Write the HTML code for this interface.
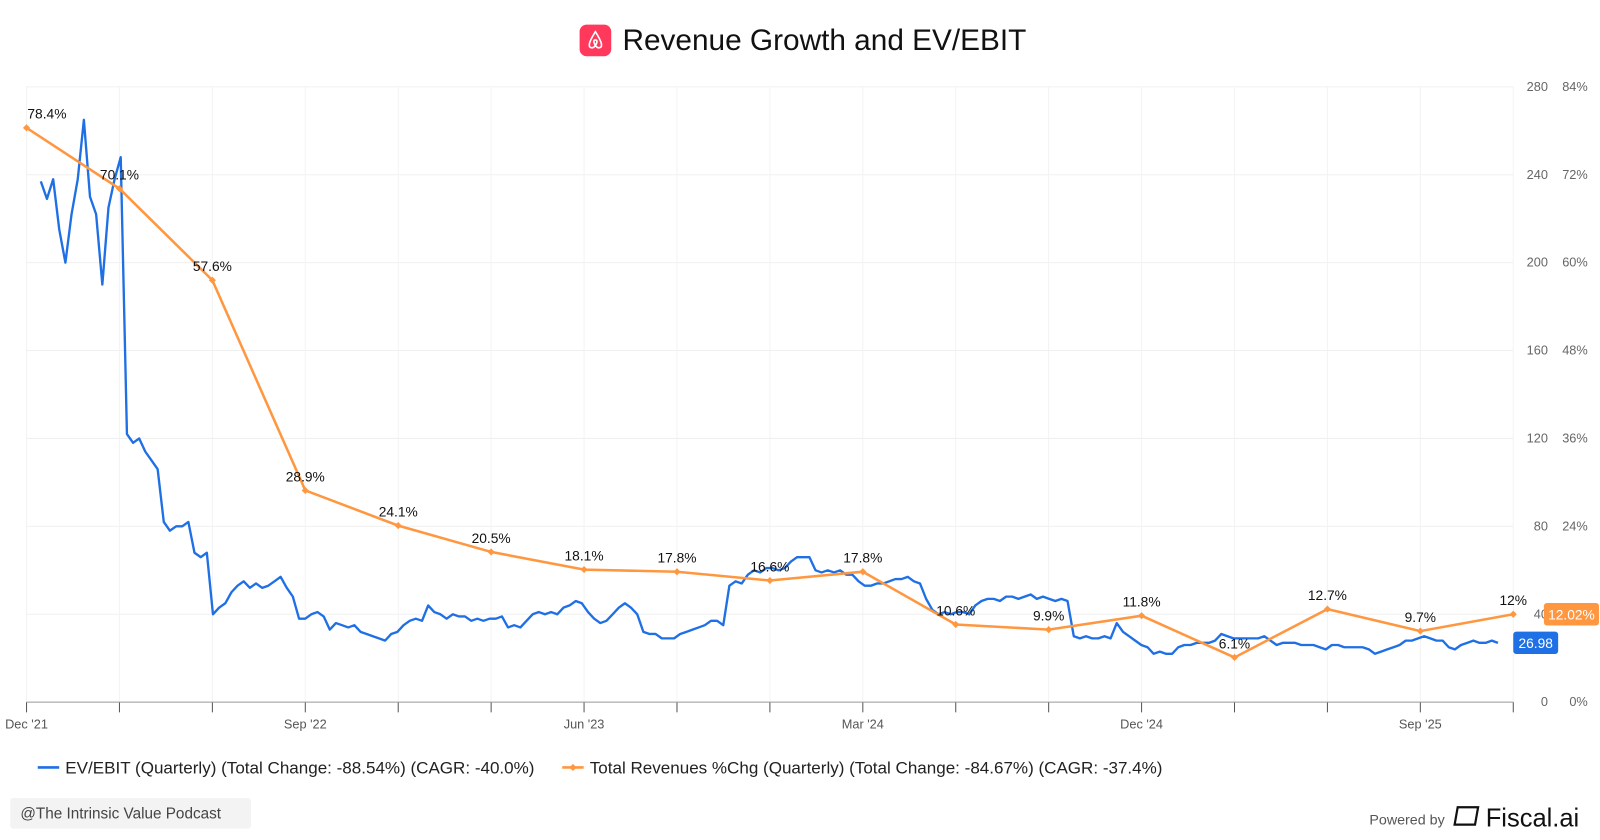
<!DOCTYPE html>
<html><head><meta charset="utf-8">
<style>
body{margin:0;width:1600px;height:840px;background:#fff;font-family:"Liberation Sans",sans-serif;overflow:hidden}
svg{display:block}
</style></head>
<body>
<svg width="1600" height="840" viewBox="0 0 1568 823">
  <g>
    <rect x="568" y="24" width="31" height="31" rx="7" fill="#ff385c"/>
    <path d="M583.5 31 C581 35 577.5 41 577.5 44 C577.5 47 581 48 583.5 44.5 C586 48 589.5 47 589.5 44 C589.5 41 586 35 583.5 31 Z M583.5 44.5 C581.5 41.5 581.5 39 583.5 39 C585.5 39 585.5 41.5 583.5 44.5" fill="none" stroke="#fff" stroke-width="1.6"/>
    <text x="610" y="49" font-size="29.2" fill="#111">Revenue Growth and EV/EBIT</text>
  </g>
  <g id="grid"></g>
  <g id="axes"></g>
  <g id="series"></g>
  <g>
    <g>
      <line x1="37" y1="752" x2="58" y2="752" stroke="#1f6fe5" stroke-width="2.5"/>
      <text x="64" y="758" font-size="16.7" fill="#222">EV/EBIT (Quarterly) (Total Change: -88.54%) (CAGR: -40.0%)</text>
    </g>
    <g>
      <line x1="551" y1="752" x2="572" y2="752" stroke="#ff9740" stroke-width="2.5"/>
      <path d="M561.5 748.5 L565 752 L561.5 755.5 L558 752 Z" fill="#ff9740"/>
      <text x="578" y="758" font-size="16.7" fill="#222">Total Revenues %Chg (Quarterly) (Total Change: -84.67%) (CAGR: -37.4%)</text>
    </g>
  </g>
  <g>
    <rect x="10" y="782" width="236" height="30" rx="3" fill="#f3f3f3"/>
    <text x="20" y="802" font-size="15" fill="#444">@The Intrinsic Value Podcast</text>
  </g>
  <g>
    <text x="1342" y="808" font-size="14" fill="#555">Powered by</text>
    <rect x="1428" y="791" width="20" height="17" fill="none" stroke="#111" stroke-width="2.2" transform="skewX(-10) translate(140,0)"/>
    <text x="1456" y="810" font-size="25" fill="#111">Fiscal.ai</text>
  </g>
</svg>
<script>
const quarterLabels = ["Dec '21","","","Sep '22","","","Jun '23","","","Mar '24","","","Dec '24","","","Sep '25",""];
const revGrowth = [78.4,70.1,57.6,28.9,24.1,20.5,18.1,17.8,16.6,17.8,10.6,9.9,11.8,6.1,12.7,9.7,12];
const revLabels = ["78.4%","70.1%","57.6%","28.9%","24.1%","20.5%","18.1%","17.8%","16.6%","17.8%","10.6%","9.9%","11.8%","6.1%","12.7%","9.7%","12%"];
const evTicks = [0,40,80,120,160,200,240,280];
const pctTicks = ["0%","12%","24%","36%","48%","60%","72%","84%"];
const evEbit = [237,229,238,215,200,222,238,265,230,222,190,225,238,248,122,118,120,114,110,106,
82,78,80,80,82,68,66,68,40,43,45,50,53,55,52,54,52,53,55,57,52,48,38,38,40,41,39,33,36,35,34,35,32,31,30,29,28,31,32,35,37,38,37,44,41,40,38,40,39,39,37,38,37,38,38,39,34,35,34,37,40,41,40,41,40,43,44,46,45,41,38,36,37,40,43,45,43,40,32,31,31,29,29,29,31,32,33,34,35,37,37,35,53,55,54,58,60,59,61,61,60,61,64,66,66,66,60,59,60,59,60,58,58,55,53,53,54,54,55,56,56,57,55,54,47,42,40,41,40,41,41,40,44,46,47,47,46,48,48,47,48,49,47,48,47,46,47,46,
30,29,30,29,29,30,29,36,32,30,28,26,25,22,23,22,22,25,26,26,27,27,27,28,31,30,29,29,29,29,29,30,28,26,27,27,27,26,26,26,25,24,26,26,25,25,25,25,24,22,23,24,25,26,28,28,29,30,29,28,28,25,24,26,27,28,27,27,28,27];
const evLast = "26.98", revLast = "12.02%";

const NS="http://www.w3.org/2000/svg";
const X0=26,X1=1483,Y0=688,Y1=85,EVMAX=280,PCTMAX=84;
const xQ=i=>X0+i*(X1-X0)/(revGrowth.length-1);
const xD=i=>40+i*(1468-40)/(evEbit.length-1);
const yEv=v=>Y0-v/EVMAX*(Y0-Y1);
const yPct=v=>Y0-v/PCTMAX*(Y0-Y1);
function mk(tag,attrs,parent){const e=document.createElementNS(NS,tag);for(const k in attrs)e.setAttribute(k,attrs[k]);parent.appendChild(e);return e;}
const grid=document.getElementById('grid'),axes=document.getElementById('axes'),ser=document.getElementById('series');
evTicks.forEach((t,i)=>{
  if(t>0){const l=mk('line',{x1:X0,x2:X1,y1:yEv(t),y2:yEv(t),stroke:'#f0f0f0','stroke-width':1},grid);
  
  }
  const a=mk('text',{x:1517,y:yEv(t)+4,'font-size':12.5,fill:'#666','text-anchor':'end'},axes);a.textContent=t;
  
  
  const b=mk('text',{x:1556,y:yEv(t)+4,'font-size':12.5,fill:'#666','text-anchor':'end'},axes);b.textContent=pctTicks[i];
  
  
});
quarterLabels.forEach((lab,i)=>{
  const x=xQ(i);
  const g=mk('line',{x1:x,x2:x,y1:Y1,y2:Y0,stroke:'#f3f3f3','stroke-width':1},grid);
  
  
  const t=mk('line',{x1:x,x2:x,y1:Y0,y2:Y0+10,stroke:'#555','stroke-width':1},axes);
  
  
  if(lab){const tx=mk('text',{x:x,y:Y0+26,'font-size':12.5,fill:'#555','text-anchor':'middle'},axes);tx.textContent=lab;
  
  }
});
const ax=mk('line',{x1:X0,x2:X1,y1:Y0,y2:Y0,stroke:'#999','stroke-width':1},axes);


const bl=mk('polyline',{points:evEbit.map((v,i)=>xD(i).toFixed(1)+','+yEv(v).toFixed(1)).join(' '),fill:'none',stroke:'#1f6fe5','stroke-width':2.3,'stroke-linejoin':'round'},ser);


const ol=mk('polyline',{points:revGrowth.map((v,i)=>xQ(i).toFixed(1)+','+yPct(v).toFixed(1)).join(' '),fill:'none',stroke:'#ff9740','stroke-width':2.5},ser);


revGrowth.forEach((v,i)=>{
  const x=xQ(i),y=yPct(v);
  const m=mk('path',{d:`M${x} ${y-3.5}L${x+3.5} ${y}L${x} ${y+3.5}L${x-3.5} ${y}Z`,fill:'#ff9740'},ser);
  
  
  const t=mk('text',{x:i==0?x+20:x,y:y-9,'font-size':13.5,fill:'#111','text-anchor':'middle'},ser);t.textContent=revLabels[i];
  
  
});
const oy=yPct(revGrowth[revGrowth.length-1]);
const ob=mk('rect',{x:1513,y:oy-11,width:54,height:22,rx:3,fill:'#ff9740'},ser);


const ot=mk('text',{x:1540,y:oy+5,'font-size':13.5,fill:'#fff','text-anchor':'middle'},ser);ot.textContent=revLast;


const by=yEv(evEbit[evEbit.length-1]);
const bb=mk('rect',{x:1483,y:by-11,width:44,height:22,rx:3,fill:'#1f6fe5'},ser);


const bt=mk('text',{x:1505,y:by+5,'font-size':13.5,fill:'#fff','text-anchor':'middle'},ser);bt.textContent=evLast;


</script>
</body></html>
